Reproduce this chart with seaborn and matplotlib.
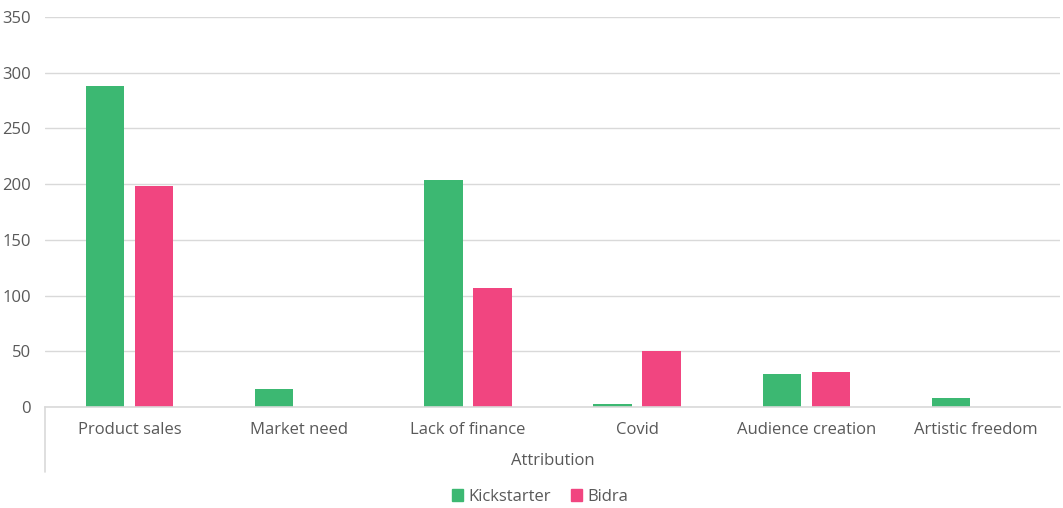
import pandas as pd
import numpy as np
import matplotlib.pyplot as plt
import seaborn as sns

# data
categories = ["Product sales", "Market need", "Lack of finance", "Covid",
              "Audience creation", "Artistic freedom"]
kickstarter = [288, 16, 204, 3, 30, 8]
bidra = [198, 0, 107, 50, 31, 0]
series_names = ["Kickstarter", "Bidra"]
colors = ["#3CB872", "#F14580"]

df = pd.DataFrame({
    "Attribution": categories * 2,
    "value": kickstarter + bidra,
    "series": [series_names[0]] * len(categories) + [series_names[1]] * len(categories),
})

sns.set_style("white")
plt.rcParams["font.family"] = ["Open Sans", "DejaVu Sans"]
text_col = "#595959"

fig = plt.figure(figsize=(10.63, 5.08), dpi=100)
ax = fig.add_axes([45 / 1063, 101 / 508, 1015 / 1063, 390 / 508])

sns.barplot(data=df, x="Attribution", y="value", hue="series",
            palette=colors, saturation=1, width=0.58, gap=0.22,
            linewidth=0, ax=ax, legend=True)

ax.set_ylim(0, 350)
ax.set_yticks(np.arange(0, 351, 50))
ax.set_xlim(-0.5, len(categories) - 0.5)
ax.yaxis.grid(True, color="#d9d9d9", linewidth=1)
ax.set_axisbelow(True)
for s in ["top", "right", "left"]:
    ax.spines[s].set_visible(False)
ax.spines["bottom"].set_color("#d9d9d9")
ax.spines["bottom"].set_linewidth(1.2)

ax.tick_params(axis="both", length=0, labelsize=12, colors=text_col)
ax.tick_params(axis="x", pad=10.5)
ax.tick_params(axis="y", pad=10)
ax.set_ylabel("")
ax.set_xlabel("Attribution", fontsize=12, color=text_col, labelpad=11)

# vertical line below the category axis, as in the reference
ax.plot([0, 0], [0, -65 / 390], transform=ax.transAxes, color="#d9d9d9",
        linewidth=1.2, clip_on=False)

ax.get_legend().remove()
handles = [plt.Rectangle((0, 0), 1, 1, color=c) for c in colors]
fig.legend(handles, series_names, loc="center", bbox_to_anchor=(540 / 1063, 11 / 508),
           ncol=2, frameon=False, fontsize=12, handlelength=0.7, handleheight=0.7,
           handletextpad=0.3, columnspacing=1.2, labelcolor=text_col)

fig.savefig("out.png", dpi=100)
